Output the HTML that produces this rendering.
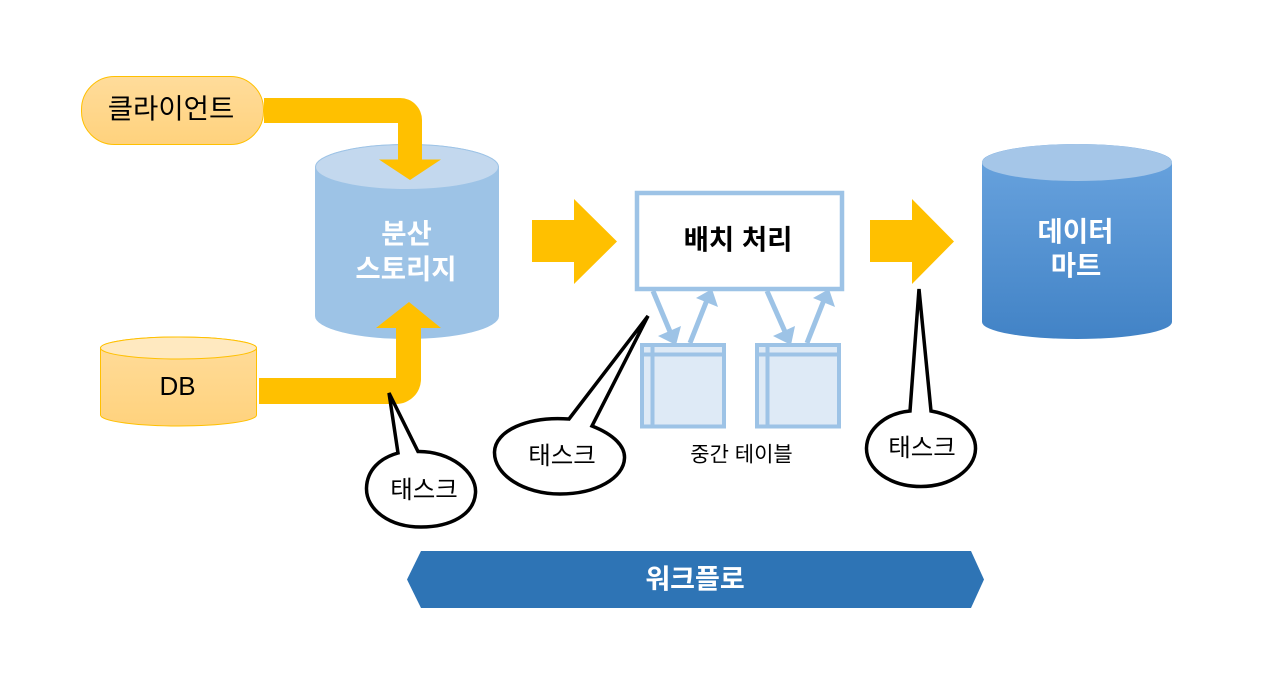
<!DOCTYPE html>
<html lang="ko"><head><meta charset="utf-8"><style>
html,body{margin:0;padding:0;background:#fff;width:1280px;height:679px;overflow:hidden}
svg{display:block}
text{font-family:"Liberation Sans","Noto Sans CJK KR","NanumGothic",sans-serif;text-anchor:middle}
</style></head><body>
<svg width="1280" height="679" viewBox="0 0 1280 679" xmlns="http://www.w3.org/2000/svg">
<defs>
<linearGradient id="o" x1="0" y1="0" x2="0" y2="1"><stop offset="0" stop-color="#ffdc9b"/><stop offset="1" stop-color="#ffd27d"/></linearGradient>
<linearGradient id="b" x1="0" y1="0" x2="0" y2="1"><stop offset="0" stop-color="#6aa4df"/><stop offset="1" stop-color="#4283c6"/></linearGradient>
</defs>
<rect width="1280" height="679" fill="#fff"/>

<!-- client -->
<rect x="81.500" y="76.500" width="182" height="68" rx="33" fill="url(#o)" stroke="#ffc000"/>
<text x="171" y="118" font-size="27.500" fill="#000">클라이언트</text>

<!-- storage cylinder -->
<path d="M315 167A92 23 0 0 1 499 167V316A92 23 0 0 1 315 316Z" fill="#9dc3e6"/>
<ellipse cx="407" cy="167" rx="91.500" ry="22.500" fill="#c3d8ee" stroke="#9dc3e6"/>
<text x="406.500" y="243" font-size="27.500" font-weight="700" fill="#fff">분산</text>
<text x="406" y="278.500" font-size="27.500" font-weight="700" fill="#fff">스토리지</text>

<!-- client arrow -->
<path d="M264 98H400A22 22 0 0 1 422 120V159.500H441L410 180L379 159.500H398V123H264Z" fill="#ffc000"/>

<!-- DB -->
<path d="M100.500 348A78 11 0 0 1 256.500 348V415A78 11 0 0 1 100.500 415Z" fill="url(#o)" stroke="#ffc000"/>
<ellipse cx="178.500" cy="348" rx="78" ry="11" fill="#ffe9c0" stroke="#ffc000"/>
<text x="177.500" y="395" font-size="26" fill="#000">DB</text>

<!-- DB arrow -->
<path d="M259 378H396V328H376L409 302L441 328H421V379A25 25 0 0 1 396 404H259Z" fill="#ffc000"/>

<!-- big arrows -->
<path d="M532 220H574V199L617 241.500L574 284V262H532Z" fill="#ffc000"/>
<path d="M870 220H912V199L954 241.500L912 284V262H870Z" fill="#ffc000"/>

<!-- batch box -->
<rect x="637" y="193" width="205" height="96" fill="#fff" stroke="#9dc3e6" stroke-width="4.500"/>
<text x="738" y="249" font-size="27.500" font-weight="700" fill="#000">배치 처리</text>

<!-- intermediate tables -->
<g fill="#deeaf6" stroke="#9dc3e6" stroke-width="4">
<rect x="642" y="345" width="82" height="81.500"/>
<path d="M652.500 345V426.500M642 354.500H724" fill="none"/>
<rect x="757" y="345" width="82" height="81.500"/>
<path d="M767.500 345V426.500M757 354.500H839" fill="none"/>
</g>

<!-- small arrows -->
<g stroke="#9dc3e6" stroke-width="5" fill="none">
<path d="M653 291L671 334"/><path d="M690 343L707 300"/>
<path d="M767 291L786 334"/><path d="M807 343L824 300"/>
</g>
<g fill="#9dc3e6">
<path d="M676 345L658 336L681 326Z"/><path d="M712 289L696 298L718 307Z"/>
<path d="M791 345L773 336L795 326Z"/><path d="M829 289L813 298L835 307Z"/>
</g>
<text x="741.500" y="461.500" font-size="21" fill="#000">중간 테이블</text>

<!-- callouts -->
<g fill="#fff" stroke="#000" stroke-width="3.500">
<path d="M398 453L389 393L418 451.500C450 451 477 472 475.500 493C474 515 450 527 421 527C390 527 366 510 366.500 488C367 470 380 458 398 453Z"/>
<path d="M569 419L648 316L592 426C615 435 625 447 624.500 458C624 478 596 494 560 494C524 494 494 475 494.500 452C495 431 527 416 569 419Z"/>
<path d="M910 411L919 289L931 411C958 416 976 431 975.500 449C975 470 950 486.500 921 486.500C891 486.500 866 470 866.500 448C867 429 886 413 910 411Z"/>
</g>
<text x="424" y="498" font-size="24.500" fill="#000">태스크</text>
<text x="562" y="464" font-size="24.500" fill="#000">태스크</text>
<text x="922" y="456" font-size="24.500" fill="#000">태스크</text>

<!-- data mart -->
<path d="M982 162A95 18 0 0 1 1172 162V322A95 17 0 0 1 982 322Z" fill="url(#b)"/>
<ellipse cx="1077" cy="162.500" rx="95" ry="18.500" fill="#a5c6e8"/>
<text x="1075.500" y="241" font-size="27.500" font-weight="700" fill="#fff">데이터</text>
<text x="1076" y="275" font-size="27.500" font-weight="700" fill="#fff">마트</text>

<!-- workflow -->
<path d="M421 551H971L984 579.500L971 608H421L407 579.500Z" fill="#2e74b5"/>
<text x="695" y="588.500" font-size="27" font-weight="700" fill="#fff">워크플로</text>
</svg>
</body></html>
